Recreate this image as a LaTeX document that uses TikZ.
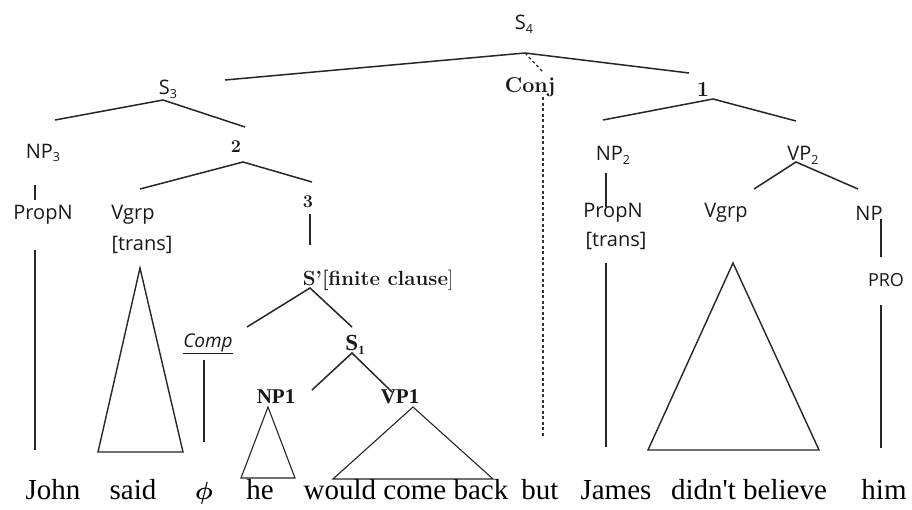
\documentclass[tikz,border=0pt]{standalone}
\usepackage{bm}
\usepackage{fontspec}
\newfontfamily\catfont{Open Sans}
\newfontfamily\tnr{Liberation Serif}
\tikzset{
  cat/.style={font=\catfont\fontsize{20}{22}\selectfont, inner sep=0pt, text=black!90},
  lmb/.style={font=\fontsize{21.5}{24}\selectfont\bfseries, inner sep=0pt, text=black!90},
  tb/.style={font=\tnr\fontsize{21}{23}\selectfont\bfseries, inner sep=0pt, text=black!90},
  word/.style={font=\tnr\fontsize{29}{32}\selectfont, inner sep=0pt, anchor=base, text=black},
  br/.style={line width=1.5pt, draw=black!85},
  dsh/.style={line width=1.3pt, draw=black!80, dash pattern=on 3pt off 2.5pt},
  tri/.style={line width=1.4pt, draw=black!85, line join=miter}
}
\newcommand{\mysub}[1]{\raisebox{-0.35ex}{\fontsize{12.5}{12.5}\selectfont #1}}
\begin{document}
\begin{tikzpicture}[x=1pt,y=-1pt]
\useasboundingbox (0,0) rectangle (912,509);
\fill[white] (0,0) rectangle (912,509);
% labels
\node[cat] (S4) at (524,24) {S\mysub{4}};
\node[lmb] (conj) at (530,87) {Conj};
\node[cat] (S3) at (168,89) {S\mysub{3}};
\node[lmb] (one) at (703,89) {1};
\node[cat] (NP3) at (43,153) {NP\mysub{3}};
\node[lmb, font=\fontsize{18}{20}\selectfont\bfseries] (two) at (236,147) {2};
\node[cat] (NP2) at (613,155) {NP\mysub{2}};
\node[cat] (VP2) at (803,155) {VP\mysub{2}};
\node[cat] (PropN1) at (43,215) {PropN};
\node[cat] (Vgrp1) at (133,215) {Vgrp};
\node[cat] (trans1) at (142,245) {[trans]};
\node[lmb, font=\fontsize{18}{20}\selectfont\bfseries] (three) at (308,202) {3};
\node[cat] (PropN2) at (613,213) {PropN};
\node[cat] (trans2) at (616,241) {[trans]};
\node[cat] (Vgrp2) at (726,213) {Vgrp};
\node[cat] (NP) at (869,213) {NP};
\node[cat, font=\catfont\fontsize{18}{20}\selectfont] (PRO) at (886,280) {PRO};
\node[lmb, font=\fontsize{20.5}{23}\selectfont\bfseries] (Sp) at (378,280) {S'[finite clause{\mdseries]}};
\node[cat, font=\catfont\itshape\fontsize{19}{21}\selectfont] (Comp) at (208,344) {\underline{Comp}};
\node[tb, font=\tnr\fontsize{23}{25}\selectfont\bfseries] (S1) at (355,345) {S\mysub{1}};
\node[tb] (NP1) at (276,397) {NP1};
\node[tb] (VP1) at (400,397) {VP1};
% words
\node[word] (john) at (53,499) {John};
\node[word] (said) at (133,499) {said};
\node[word] (phinode) at (204,499) {$\bm{\phi}$};
\node[word] (he) at (260,499) {he};
\node[word] (wcb) at (406,499) {would come back};
\node[word] (but) at (540,499) {but};
\node[word] (james) at (616,499) {James};
\node[word] (db) at (749,499) {didn't believe};
\node[word] (him) at (884,499) {him};
% joints and ends
\coordinate (j4) at (525,53);
\coordinate (e4l) at (225,80);
\coordinate (e4r) at (689,73);
\coordinate (e4c) at (543,72);
\coordinate (ct) at (543,97);
\coordinate (cb) at (543,437);
\coordinate (j3) at (163,100);
\coordinate (e3l) at (55,120);
\coordinate (e3r) at (245,127);
\coordinate (j2) at (243,162);
\coordinate (e2l) at (140,189);
\coordinate (e2r) at (312,182);
\coordinate (n3t) at (35,185);
\coordinate (n3b) at (35,200);
\coordinate (p1t) at (35,250);
\coordinate (p1b) at (35,450);
\coordinate (v1a) at (140,268);
\coordinate (v1l) at (98,452);
\coordinate (v1r) at (183,452);
\coordinate (t3t) at (310,214);
\coordinate (t3b) at (310,245);
\coordinate (jsp) at (310,288);
\coordinate (espl) at (247,327);
\coordinate (espr) at (352,327);
\coordinate (cpt) at (204,360);
\coordinate (cpb) at (204,442);
\coordinate (js1) at (352,353);
\coordinate (es1l) at (312,390);
\coordinate (es1r) at (392,392);
\coordinate (n1a) at (268,407);
\coordinate (n1l) at (241,478);
\coordinate (n1r) at (295,478);
\coordinate (vp1a) at (413,407);
\coordinate (vp1l) at (333,479);
\coordinate (vp1r) at (493,479);
\coordinate (j1) at (713,99);
\coordinate (e1l) at (603,120);
\coordinate (e1r) at (796,121);
\coordinate (jv2) at (796,162);
\coordinate (ev2l) at (754,189);
\coordinate (ev2r) at (858,189);
\coordinate (n2t) at (606,173);
\coordinate (n2b) at (606,207);
\coordinate (npt) at (881,219);
\coordinate (npb) at (881,257);
\coordinate (p2t) at (606,263);
\coordinate (p2b) at (606,447);
\coordinate (v2a) at (733,263);
\coordinate (v2l) at (648,450);
\coordinate (v2r) at (819,450);
\coordinate (prt) at (881,305);
\coordinate (prb) at (881,448);
% branches
\draw[br] (e4l) -- (j4) -- (e4r);
\draw[dsh] (j4) -- (e4c);
\draw[dsh] (ct) -- (cb);
\draw[br] (e3l) -- (j3) -- (e3r);
\draw[br] (e2l) -- (j2) -- (e2r);
\draw[br] (n3t) -- (n3b);
\draw[br] (p1t) -- (p1b);
\draw[tri] (v1a) -- (v1l) -- (v1r) -- cycle;
\draw[br] (t3t) -- (t3b);
\draw[br] (espl) -- (jsp) -- (espr);
\draw[br] (cpt) -- (cpb);
\draw[br] (es1l) -- (js1) -- (es1r);
\draw[tri, line width=1.1pt] (n1a) -- (n1l) -- (n1r) -- cycle;
\draw[tri, line width=1.1pt] (vp1a) -- (vp1l) -- (vp1r) -- cycle;
\draw[br] (e1l) -- (j1) -- (e1r);
\draw[br] (ev2l) -- (jv2) -- (ev2r);
\draw[br] (n2t) -- (n2b);
\draw[br] (npt) -- (npb);
\draw[br] (p2t) -- (p2b);
\draw[tri] (v2a) -- (v2l) -- (v2r) -- cycle;
\draw[br] (prt) -- (prb);
\end{tikzpicture}
\end{document}
